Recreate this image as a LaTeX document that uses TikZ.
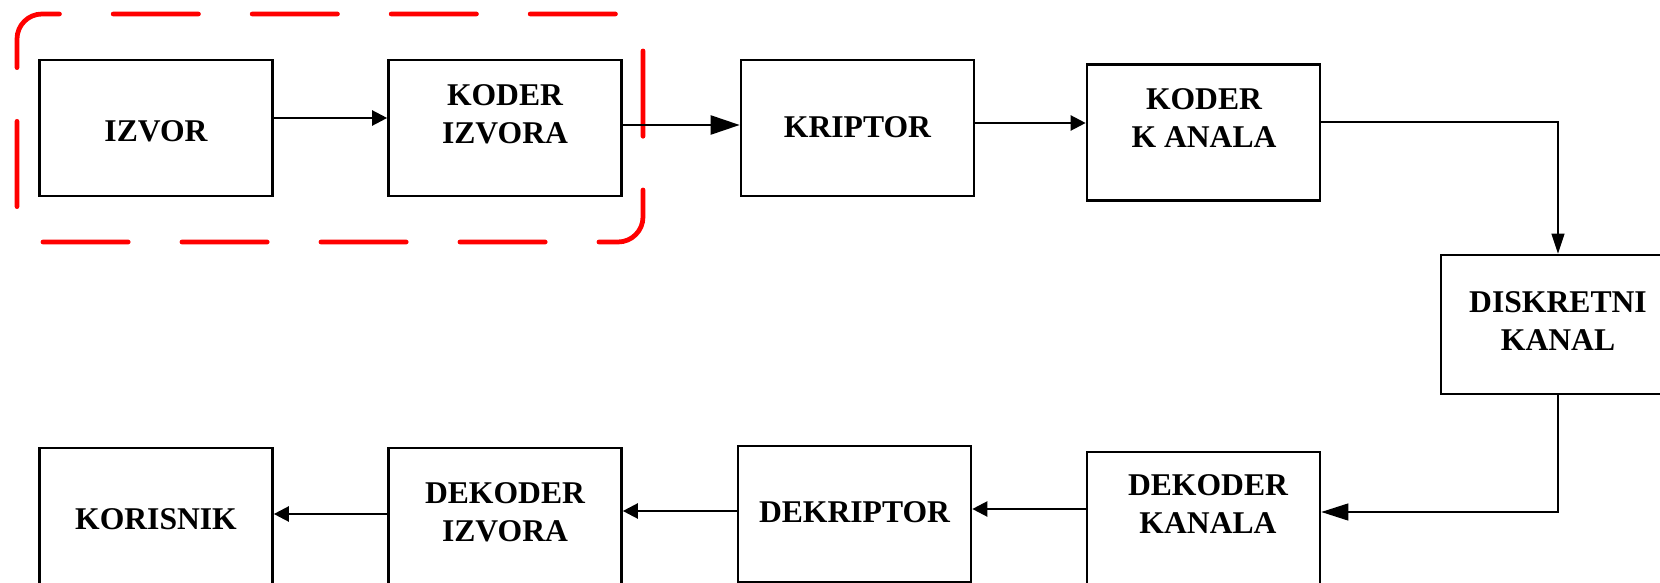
\documentclass[tikz,border=0pt]{standalone}
\usepackage{fontspec}
\setmainfont{Liberation Serif}
\usetikzlibrary{arrows.meta}

\tikzset{
  blok/.style={draw, line width=1.5pt, minimum width=46.6mm, minimum height=27.2mm, inner sep=0pt},
  tekst/.style={align=center, font=\fontsize{18}{21.5}\selectfont\bfseries, inner sep=0pt},
  strelica/.style={line width=1.3pt, -{Triangle[length=3mm,width=3mm]}},
  tanka/.style={line width=0.7pt, -{Triangle[length=4mm,width=2.6mm]}}
}

\begin{document}
\begin{tikzpicture}[x=0.2mm, y=0.2mm]
\useasboundingbox (0,0) rectangle (1660,582);
\clip (0,0) rectangle (1660,582);

% Predajna strana
\node[blok] (izvor) at (156,454) {};
\node[tekst] (izvor-t) at (156,451) {IZVOR};

\node[blok] (kizv) at (505,454) {};
\node[tekst] (kizv-t) at (505,468) {KODER\\IZVORA};

\node[blok] (kript) at (857.5,454) {};
\node[tekst] (kript-t) at (857.5,455) {KRIPTOR};

\node[blok] (kkan) at (1203.5,449.5) {};
\node[tekst] (kkan-t) at (1204,464) {KODER\\K ANALA};

% Kanal
\node[blok, minimum width=46.8mm, minimum height=27.8mm] (disk) at (1558,257.5) {};
\node[tekst] (disk-t) at (1558,261) {DISKRETNI\\KANAL};

% Prijemna strana
\node[blok] (dkan) at (1203.5,62) {};
\node[tekst] (dkan-t) at (1208,78) {DEKODER\\KANALA};

\node[blok] (dkript) at (854.5,68) {};
\node[tekst] (dkript-t) at (854.5,70) {DEKRIPTOR};

\node[blok] (dizv) at (505,66) {};
\node[tekst] (dizv-t) at (505,70) {DEKODER\\IZVORA};

\node[blok] (koris) at (156,66) {};
\node[tekst] (koris-t) at (156,63) {KORISNIK};

% Izvor i koder izvora
\draw[red, line width=2.7pt, line cap=round, dash pattern=on 17.05mm off 10.75mm, rounded corners=5mm]
	(17,375.4) -- (17,568) -- (643,568) -- (643,340) -- (42,340);

% Veze
\draw[strelica] ([yshift=2mm]izvor.east) -- ([yshift=2mm]kizv.west);
\draw[line width=1.3pt, -{Triangle[length=5.8mm,width=3.8mm]}] ([yshift=0.6mm]kizv.east) -- ([yshift=0.6mm]kript.west);
\draw[strelica] ([yshift=1mm]kript.east) -- ([yshift=1mm]kript.east -| kkan.west);
\draw[tanka] ([yshift=2.1mm]kkan.east) -| (disk.north);
\draw[tanka, -{Triangle[length=5.4mm,width=3.4mm]}] (disk.south) |- ([yshift=1.6mm]dkan.east);
\draw[strelica] ([yshift=2.2mm]dkan.west) -- ([yshift=2.2mm]dkan.west -| dkript.east);
\draw[strelica] ([yshift=0.6mm]dkript.west) -- ([yshift=0.6mm]dkript.west -| dizv.east);
\draw[strelica] ([yshift=0.4mm]dizv.west) -- ([yshift=0.4mm]dizv.west -| koris.east);
\end{tikzpicture}
\end{document}
